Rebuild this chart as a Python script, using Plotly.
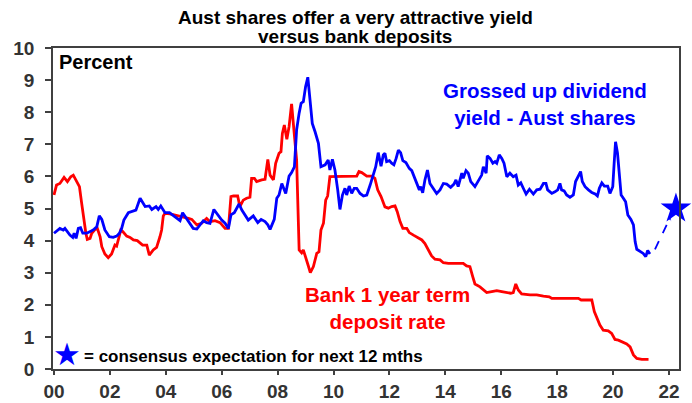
import plotly.graph_objects as go

# ---- data (decimal years, percent) ----
div_x = [2000.00,2000.21,2000.33,2000.39,2000.57,2000.67,2000.72,2000.79,2000.87,2000.95,
         2001.03,2001.17,2001.35,2001.43,2001.53,2001.62,2001.71,2001.82,2001.98,2002.12,
         2002.24,2002.34,2002.42,2002.50,2002.66,2002.84,2002.93,2003.08,2003.26,2003.41,
         2003.50,2003.65,2003.73,2003.82,2003.97,2004.13,2004.29,2004.45,2004.51,2004.60,
         2004.75,2004.87,2004.98,2005.11,2005.22,2005.34,2005.46,2005.58,2005.72,2005.82,
         2005.94,2006.00,2006.12,2006.24,2006.33,2006.45,2006.62,2006.72,2006.95,2007.13,
         2007.29,2007.41,2007.55,2007.65,2007.73,2007.88,2007.97,2008.05,2008.15,2008.29,
         2008.41,2008.50,2008.60,2008.68,2008.77,2008.84,2008.92,2009.00,2009.08,2009.16,
         2009.24,2009.34,2009.46,2009.55,2009.70,2009.81,2009.87,2009.96,2010.05,2010.15,
         2010.23,2010.32,2010.41,2010.47,2010.56,2010.65,2010.74,2010.83,2010.95,2011.07,
         2011.19,2011.31,2011.42,2011.51,2011.60,2011.70,2011.78,2011.84,2011.90,2012.00,
         2012.08,2012.16,2012.24,2012.32,2012.40,2012.48,2012.59,2012.71,2012.80,2012.88,
         2012.98,2013.07,2013.12,2013.19,2013.27,2013.36,2013.45,2013.57,2013.69,2013.81,
         2013.93,2014.05,2014.19,2014.31,2014.38,2014.46,2014.59,2014.64,2014.74,2014.82,
         2014.91,2015.06,2015.18,2015.30,2015.36,2015.46,2015.50,2015.60,2015.70,2015.78,
         2015.84,2015.93,2016.02,2016.10,2016.20,2016.31,2016.43,2016.53,2016.61,2016.70,
         2016.79,2016.89,2017.01,2017.15,2017.27,2017.39,2017.51,2017.60,2017.66,2017.81,
         2017.92,2018.02,2018.10,2018.16,2018.25,2018.34,2018.46,2018.58,2018.66,2018.76,
         2018.84,2018.90,2019.00,2019.12,2019.24,2019.36,2019.44,2019.51,2019.60,2019.69,
         2019.81,2019.89,2019.99,2020.04,2020.09,2020.16,2020.22,2020.29,2020.37,2020.45,
         2020.53,2020.64,2020.73,2020.79,2020.85,2020.97,2021.08,2021.17,2021.24,2021.32]
div_y = [4.23,4.38,4.33,4.38,4.17,4.10,4.23,4.07,4.38,4.40,
         4.23,4.23,4.31,4.35,4.43,4.77,4.66,4.33,4.12,4.10,
         4.14,4.23,4.38,4.64,4.87,4.92,4.95,5.32,5.06,5.08,
         4.97,5.06,4.97,5.08,4.87,4.87,4.77,4.66,4.62,4.87,
         4.69,4.54,4.38,4.36,4.49,4.62,4.56,4.54,4.97,4.85,
         4.74,4.64,4.54,4.38,4.80,4.87,5.14,4.95,4.64,4.77,
         4.56,4.66,4.59,4.49,4.35,4.66,5.32,5.42,5.78,5.47,
         6.01,6.12,6.30,7.45,7.97,8.28,8.33,8.79,9.09,8.38,
         7.65,7.39,7.03,6.30,6.36,6.51,6.20,6.53,6.20,5.58,
         4.97,5.42,5.63,5.42,5.70,5.47,5.63,5.63,5.47,5.39,
         5.42,5.73,6.04,6.30,6.74,6.32,6.67,6.72,6.46,6.49,
         6.41,6.36,6.56,6.82,6.74,6.49,6.43,6.25,6.18,5.99,
         5.78,5.58,5.68,5.49,5.89,6.20,5.78,5.63,5.47,5.58,
         5.78,5.76,5.66,5.76,5.89,5.68,6.10,5.94,6.18,6.10,
         5.84,5.68,5.84,6.04,6.30,6.10,6.64,6.56,6.41,6.46,
         6.41,6.67,6.56,6.41,5.99,6.10,5.99,6.04,5.73,5.80,
         5.63,5.45,5.60,5.45,5.58,5.60,5.78,5.78,5.58,5.47,
         5.52,5.58,5.78,5.58,5.55,5.42,5.35,5.42,5.84,5.99,
         6.15,5.84,5.68,5.58,5.50,5.45,5.39,5.63,5.80,5.70,
         5.70,5.47,5.68,6.41,7.08,6.72,6.10,5.42,5.32,5.21,
         4.80,4.66,4.49,3.97,3.73,3.65,3.60,3.50,3.69,3.58]

dep_x = [2000.00,2000.09,2000.21,2000.36,2000.48,2000.60,2000.69,2000.81,2000.91,2000.99,
         2001.07,2001.14,2001.19,2001.29,2001.35,2001.47,2001.55,2001.65,2001.71,2001.82,
         2001.94,2002.06,2002.18,2002.24,2002.33,2002.39,2002.46,2002.60,2002.72,2002.84,
         2002.98,2003.08,2003.17,2003.32,2003.41,2003.55,2003.67,2003.79,2003.85,2003.91,
         2003.97,2004.15,2004.39,2004.63,2004.81,2004.93,2005.11,2005.28,2005.46,2005.58,
         2005.76,2005.94,2006.12,2006.24,2006.33,2006.42,2006.57,2006.65,2006.77,2006.89,
         2007.01,2007.07,2007.17,2007.25,2007.43,2007.55,2007.65,2007.73,2007.85,2007.93,
         2008.05,2008.12,2008.17,2008.24,2008.33,2008.41,2008.50,2008.60,2008.68,2008.77,
         2008.86,2008.92,2009.00,2009.10,2009.17,2009.28,2009.40,2009.48,2009.55,2009.64,
         2009.72,2009.79,2009.87,2010.05,2010.29,2010.59,2010.83,2010.91,2011.01,2011.19,
         2011.37,2011.48,2011.58,2011.70,2011.84,2011.96,2012.08,2012.20,2012.28,2012.38,
         2012.48,2012.62,2012.71,2012.86,2012.98,2013.16,2013.27,2013.39,2013.51,2013.63,
         2013.81,2013.93,2014.11,2014.41,2014.64,2014.76,2014.88,2014.98,2015.06,2015.24,
         2015.38,2015.48,2015.66,2015.84,2016.02,2016.20,2016.34,2016.43,2016.52,2016.61,
         2016.73,2017.03,2017.27,2017.51,2017.72,2017.81,2018.28,2018.76,2018.86,2019.24,
         2019.33,2019.42,2019.53,2019.65,2019.83,2019.95,2020.07,2020.19,2020.31,2020.49,
         2020.61,2020.73,2020.85,2021.03,2021.27]
dep_y = [5.42,5.73,5.78,5.97,5.84,5.99,6.04,5.84,5.68,5.16,
         4.64,4.23,4.04,4.07,4.23,4.35,4.38,4.12,3.81,3.58,
         3.47,3.58,3.86,3.83,4.12,4.33,4.28,4.14,4.10,4.02,
         4.00,3.93,3.86,3.86,3.55,3.71,3.79,4.12,4.33,4.77,
         4.85,4.83,4.77,4.73,4.69,4.66,4.49,4.54,4.69,4.59,
         4.62,4.56,4.38,4.38,5.37,5.39,5.39,5.06,5.26,5.32,
         5.35,5.94,5.94,5.84,5.89,5.91,6.53,6.04,5.89,6.41,
         6.72,6.77,7.34,7.60,7.16,7.55,8.26,7.19,6.51,3.71,
         3.62,3.71,3.45,3.21,3.00,3.19,3.60,3.65,4.33,4.54,
         5.26,5.39,5.99,5.99,5.99,5.99,6.01,6.15,6.12,6.01,
         6.01,5.94,5.58,5.37,5.05,5.01,5.06,5.08,4.90,4.59,
         4.38,4.38,4.25,4.17,4.10,4.02,3.91,3.73,3.52,3.42,
         3.40,3.31,3.29,3.29,3.29,3.21,3.19,2.88,2.65,2.56,
         2.46,2.38,2.41,2.44,2.41,2.38,2.36,2.38,2.65,2.46,
         2.34,2.31,2.31,2.27,2.25,2.20,2.20,2.20,2.15,2.15,
         1.79,1.58,1.37,1.21,1.19,1.11,0.92,0.90,0.85,0.78,
         0.69,0.44,0.33,0.30,0.30]

fc_x = [2021.50, 2022.12]
fc_y = [3.73, 4.85]
star_x = [2022.25]
star_y = [5.0]

tick_years = list(range(2000, 2023, 2))
tick_labels = ["%02d" % (y - 2000) for y in tick_years]
y_ticks = list(range(0, 11))

title_lines = ["Aust shares offer a very attractive yield", "versus bank deposits"]

BLUE = "#0000FF"
RED = "#FF0000"
FONT = "Liberation Sans, Arial, sans-serif"
AX = "#404040"

# plot area in pixels (for placing text only)
L, R, T, B = 53, 679, 48, 369
def px(x):
    return (x - L) / (R - L)
def py(y):
    return (B - y) / (B - T)

fig = go.Figure()
fig.add_trace(go.Scatter(x=dep_x, y=dep_y, mode="lines",
                         line=dict(color=RED, width=2.8), showlegend=False))
fig.add_trace(go.Scatter(x=div_x, y=div_y, mode="lines",
                         line=dict(color=BLUE, width=2.8), showlegend=False))
fig.add_trace(go.Scatter(x=fc_x, y=fc_y, mode="lines+markers",
                         line=dict(color=BLUE, width=1.8, dash="dash"),
                         marker=dict(symbol=["circle", "arrow"], size=[0, 8],
                                     angleref="previous", color=BLUE),
                         showlegend=False))
fig.add_trace(go.Scatter(x=star_x, y=star_y, mode="markers",
                         marker=dict(symbol="star", size=23, color=BLUE, line=dict(width=0)),
                         showlegend=False, cliponaxis=False))

axis_common = dict(ticks="outside", tickcolor=AX, tickwidth=1.5,
                   showline=True, linecolor=AX, linewidth=1.5, mirror=True,
                   showgrid=False, zeroline=False, automargin=False,
                   tickfont=dict(size=19, color="#333333", family=FONT))

fig.update_layout(
    width=692, height=403,
    margin=dict(l=L, r=692 - R, t=T, b=403 - B),
    paper_bgcolor="white", plot_bgcolor="white",
    font=dict(family=FONT, color="black"),
    xaxis=dict(range=[1999.964, 2022.36], tickvals=tick_years,
               ticktext=["<b>%s</b>" % t for t in tick_labels], ticklen=4,
               **axis_common),
    yaxis=dict(range=[0, 10], tickvals=y_ticks,
               ticktext=["<b>%d</b>" % v for v in y_ticks], ticklen=6,
               ticklabelstandoff=7, **axis_common),
    annotations=[
        dict(text="<b>%s</b>" % title_lines[0], xref="paper", yref="paper",
             x=px(355), y=py(18), xanchor="center", yanchor="middle", showarrow=False,
             font=dict(size=19, color="black", family=FONT)),
        dict(text="<b>%s</b>" % title_lines[1], xref="paper", yref="paper",
             x=px(355), y=py(36.5), xanchor="center", yanchor="middle", showarrow=False,
             font=dict(size=19, color="black", family=FONT)),
        dict(text="<b>Percent</b>", xref="paper", yref="paper", x=px(57), y=py(62.5),
             xanchor="left", yanchor="middle", showarrow=False,
             font=dict(size=20, color="black", family=FONT)),
        dict(text="<b>Grossed up dividend<br>yield - Aust shares</b>", xref="paper", yref="paper",
             x=px(545), y=py(104), xanchor="center", yanchor="middle",
             showarrow=False, font=dict(size=20.5, color=BLUE, family=FONT)),
        dict(text="<b>Bank 1 year term<br>deposit rate</b>", xref="paper", yref="paper",
             x=px(387), y=py(307.5), xanchor="center", yanchor="middle",
             showarrow=False, font=dict(size=20.5, color=RED, family=FONT)),
        dict(text="★", xref="paper", yref="paper", x=px(66.5), y=py(354),
             xanchor="center", yanchor="middle", showarrow=False,
             font=dict(size=31, color=BLUE, family="DejaVu Sans")),
        dict(text="<b>= consensus expectation for next 12 mths</b>", xref="paper", yref="paper",
             x=px(82), y=py(356), xanchor="left", yanchor="middle",
             showarrow=False, font=dict(size=17, color="black", family=FONT)),
    ],
)

fig.write_html("out.html", config={"displayModeBar": False},
               post_script="document.body.style.margin='0';document.body.style.padding='0';")
